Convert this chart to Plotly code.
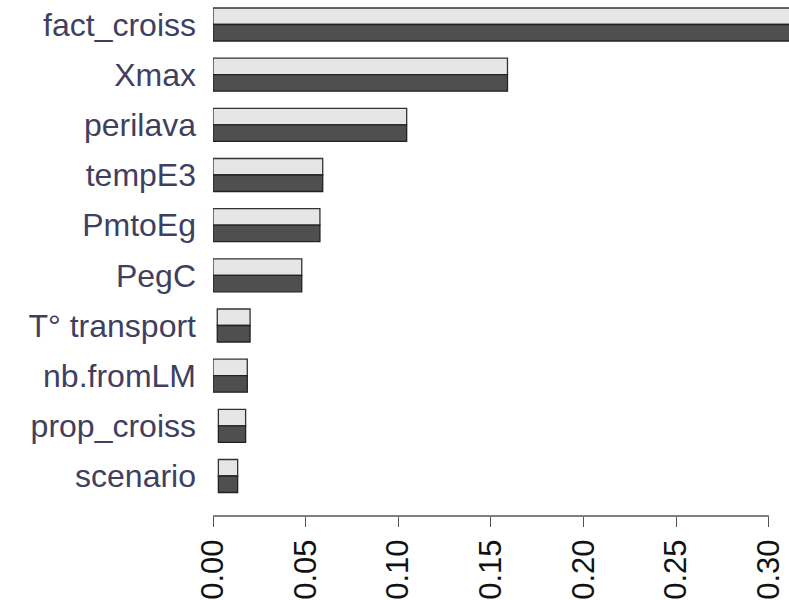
import plotly.graph_objects as go

# Sensitivity indices per input factor (two index types, drawn as paired bars)
factors = ["fact_croiss", "Xmax", "perilava", "tempE3", "PmtoEg", "PegC",
           "T° transport", "nb.fromLM", "prop_croiss", "scenario"]
first_low = [0.0, 0.0, 0.0, 0.0, 0.0, 0.0, 0.0023, 0.0, 0.0029, 0.0029]
first_high = [0.335, 0.1589, 0.1045, 0.0592, 0.0577, 0.0479, 0.0200, 0.0185, 0.0176, 0.0133]
total_low = [0.0, 0.0, 0.0, 0.0, 0.0, 0.0, 0.0023, 0.0, 0.0029, 0.0029]
total_high = [0.335, 0.1589, 0.1045, 0.0592, 0.0577, 0.0479, 0.0200, 0.0185, 0.0176, 0.0133]
tick_vals = [0.0, 0.05, 0.10, 0.15, 0.20, 0.25, 0.30]
tick_text = ["0.00", "0.05", "0.10", "0.15", "0.20", "0.25", "0.30"]

fig = go.Figure()
fig.add_trace(go.Bar(
    y=factors, base=first_low,
    x=[h - l for h, l in zip(first_high, first_low)],
    orientation="h", marker=dict(color="#e6e6e6", line=dict(color="#333333", width=1.3)),
    showlegend=False,
))
fig.add_trace(go.Bar(
    y=factors, base=total_low,
    x=[h - l for h, l in zip(total_high, total_low)],
    orientation="h", marker=dict(color="#4f4f4f", line=dict(color="#222222", width=1.3)),
    showlegend=False,
))

fig.update_layout(
    width=789, height=600,
    margin=dict(l=213, r=0, t=0, b=84, autoexpand=False),
    paper_bgcolor="white", plot_bgcolor="white",
    barmode="group", bargap=0.342, bargroupgap=0,
    font=dict(family="Liberation Sans, Arial, sans-serif"),
)
fig.update_xaxes(
    range=[0, 0.3108], showgrid=False, zeroline=False, showline=False,
    automargin=False,
    tickmode="array", tickvals=tick_vals, ticktext=tick_text,
    ticks="outside", ticklen=10, tickwidth=1.3, tickcolor="#555555",
    tickangle=-90, tickfont=dict(size=31, color="#111111"),
)
fig.update_yaxes(
    range=[9.797, -0.488], showgrid=False, zeroline=False, showline=False,
    automargin=False,
    ticks="", ticklabelstandoff=16,
    tickfont=dict(size=32, color="#3f3f5f"),
)
# axis line spanning only the labelled ticks
fig.add_shape(type="line", xref="x", yref="paper", x0=0, x1=0.30, y0=0, y1=0,
              line=dict(color="#555555", width=1.3))

fig.write_html("out.html")
